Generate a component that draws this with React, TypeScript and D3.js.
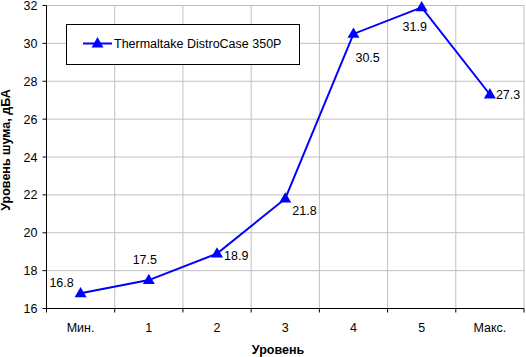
import React from "react";
import * as d3 from "d3";

const categories = ["Мин.", "1", "2", "3", "4", "5", "Макс."];
const values = [16.8, 17.5, 18.9, 21.8, 30.5, 31.9, 27.3];
const yTicks = [16, 18, 20, 22, 24, 26, 28, 30, 32];
const seriesName = "Thermaltake DistroCase 350P";
const yTitle = "Уровень шума, дБА";
const xTitle = "Уровень";
// label placement per point: [dx, dy, anchor]
const labelPos: [number, number, string][] = [
  [-19, -6, "middle"],
  [-4, -16.5, "middle"],
  [7, 6, "start"],
  [7, 16, "start"],
  [2, 28, "start"],
  [-7, 24, "middle"],
  [6, 4.5, "start"],
];

const W = 526, H = 357;
const L = 46.5, R = 524, T = 5.5, B = 308.5;
const font = "'Liberation Sans', Arial, sans-serif";

export default function App() {
  const x = d3.scaleBand<string>().domain(categories).range([L, R]);
  const y = d3.scaleLinear().domain([16, 32]).range([B, T]);
  const cx = (c: string) => (x(c) ?? 0) + x.bandwidth() / 2;
  const line = d3
    .line<number>()
    .x((_, i) => cx(categories[i]))
    .y((d) => y(d));
  const tri = d3.symbol().type(d3.symbolTriangle).size(62)();
  const boundaries = categories.map((c) => (x(c) ?? 0) + x.bandwidth());

  return (
    <svg width={W} height={H} style={{ position: "absolute", left: 0, top: 0 }} fontFamily={font}>
      <rect x={0} y={0} width={W} height={H} fill="#fff" />
      {yTicks.slice(1).map((t) => (
        <line key={"gy" + t} x1={L} x2={R} y1={y(t)} y2={y(t)} stroke="#c0c0c0" />
      ))}
      {boundaries.map((b, i) => (
        <line key={"gx" + i} x1={b} x2={b} y1={T} y2={B} stroke="#c0c0c0" />
      ))}
      <line x1={L} x2={L} y1={T} y2={B} stroke="#000" />
      <line x1={L} x2={R} y1={B} y2={B} stroke="#000" />
      {yTicks.map((t) => (
        <g key={"ty" + t}>
          <line x1={L - 4} x2={L} y1={y(t)} y2={y(t)} stroke="#000" />
          <text x={L - 9} y={y(t) + 4.5} textAnchor="end" fontSize={12.5}>
            {t}
          </text>
        </g>
      ))}
      {[L, ...boundaries].map((b, i) => (
        <line key={"tx" + i} x1={b} x2={b} y1={B} y2={B + 4} stroke="#000" />
      ))}
      {categories.map((c) => (
        <text key={"lx" + c} x={cx(c)} y={332} textAnchor="middle" fontSize={12.5}>
          {c}
        </text>
      ))}
      <path d={line(values) ?? ""} fill="none" stroke="#0000ff" strokeWidth={2} />
      {values.map((v, i) => (
        <path key={"m" + i} d={tri ?? ""} transform={`translate(${cx(categories[i])},${y(v) + 0.5})`} fill="#0000ff" />
      ))}
      {values.map((v, i) => (
        <text
          key={"dl" + i}
          x={cx(categories[i]) + labelPos[i][0]}
          y={y(v) + labelPos[i][1]}
          textAnchor={labelPos[i][2] as any}
          fontSize={12.5}
        >
          {v.toFixed(1)}
        </text>
      ))}
      <rect x={66.5} y={24.5} width={233} height={40} fill="#fff" stroke="#000" />
      <line x1={83} x2={112} y1={43.5} y2={43.5} stroke="#0000ff" strokeWidth={2} />
      <path d={tri ?? ""} transform="translate(97.5,44)" fill="#0000ff" />
      <text x={114} y={48} fontSize={12.5}>
        {seriesName}
      </text>
      <text
        transform={`translate(10,150) rotate(-90)`}
        textAnchor="middle"
        fontSize={12.5}
        fontWeight="bold"
      >
        {yTitle}
      </text>
      <text x={278} y={354} textAnchor="middle" fontSize={12.5} fontWeight="bold">
        {xTitle}
      </text>
    </svg>
  );
}
